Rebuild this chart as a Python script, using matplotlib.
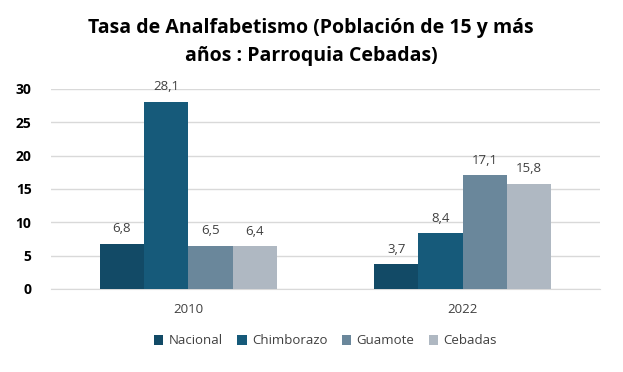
import matplotlib
import matplotlib.pyplot as plt
import numpy as np

matplotlib.use("Agg")

plt.rcParams["font.family"] = ["Open Sans", "DejaVu Sans"]

years = ["2010", "2022"]
series = ["Nacional", "Chimborazo", "Guamote", "Cebadas"]
values = {
    "Nacional": [6.8, 3.7],
    "Chimborazo": [28.1, 8.4],
    "Guamote": [6.5, 17.1],
    "Cebadas": [6.4, 15.8],
}
colors = ["#124A66", "#165A7A", "#6A879B", "#AFB8C2"]
yticks = [0, 5, 10, 15, 20, 25, 30]

W, H = 623, 372
fig = plt.figure(figsize=(W / 100, H / 100), dpi=100)
ax = fig.add_axes([51 / W, 1 - 289 / H, 549 / W, 200 / H])

x = np.arange(len(years))
bw = 0.645 / len(series)
for i, (name, c) in enumerate(zip(series, colors)):
    pos = x + (i - 1.5) * bw
    bars = ax.bar(pos, values[name], width=bw, color=c, label=name, zorder=3)
    for b, v in zip(bars, values[name]):
        ax.annotate(f"{v:.1f}".replace(".", ","), (b.get_x() + b.get_width() / 2, v),
                    xytext=(0, 6), textcoords="offset points", ha="center", va="bottom",
                    fontsize=9.5, color="#404040")

ax.set_xlim(-0.5, 1.5)
ax.set_ylim(0, 30)
ax.set_yticks(yticks)
ax.set_xticks(x)
ax.set_xticklabels(years)
ax.grid(axis="y", color="#D9D9D9", linewidth=1, zorder=0)
for s in ["top", "right", "left"]:
    ax.spines[s].set_visible(False)
ax.spines["bottom"].set_color("#D9D9D9")
ax.tick_params(axis="both", length=0)
ax.tick_params(axis="x", labelsize=9.5, labelcolor="#404040", pad=10)
ax.tick_params(axis="y", labelsize=10, labelcolor="#000000", pad=14)
for t in ax.get_yticklabels():
    t.set_fontweight("bold")

fig.text(311 / W, 1 - 42 / H, "Tasa de Analfabetismo (Población de 15 y más\naños : Parroquia Cebadas)",
         ha="center", va="center", fontsize=14, fontweight="bold", linespacing=1.5)

ax.legend(loc="center", bbox_to_anchor=(0.5, (289 - 341) / 200), ncol=4, frameon=False,
          fontsize=9.5, handlelength=0.7, handleheight=0.7, handletextpad=0.4,
          columnspacing=1.1, labelcolor="#404040")

fig.savefig("out.png", dpi=100)
plt.close(fig)
